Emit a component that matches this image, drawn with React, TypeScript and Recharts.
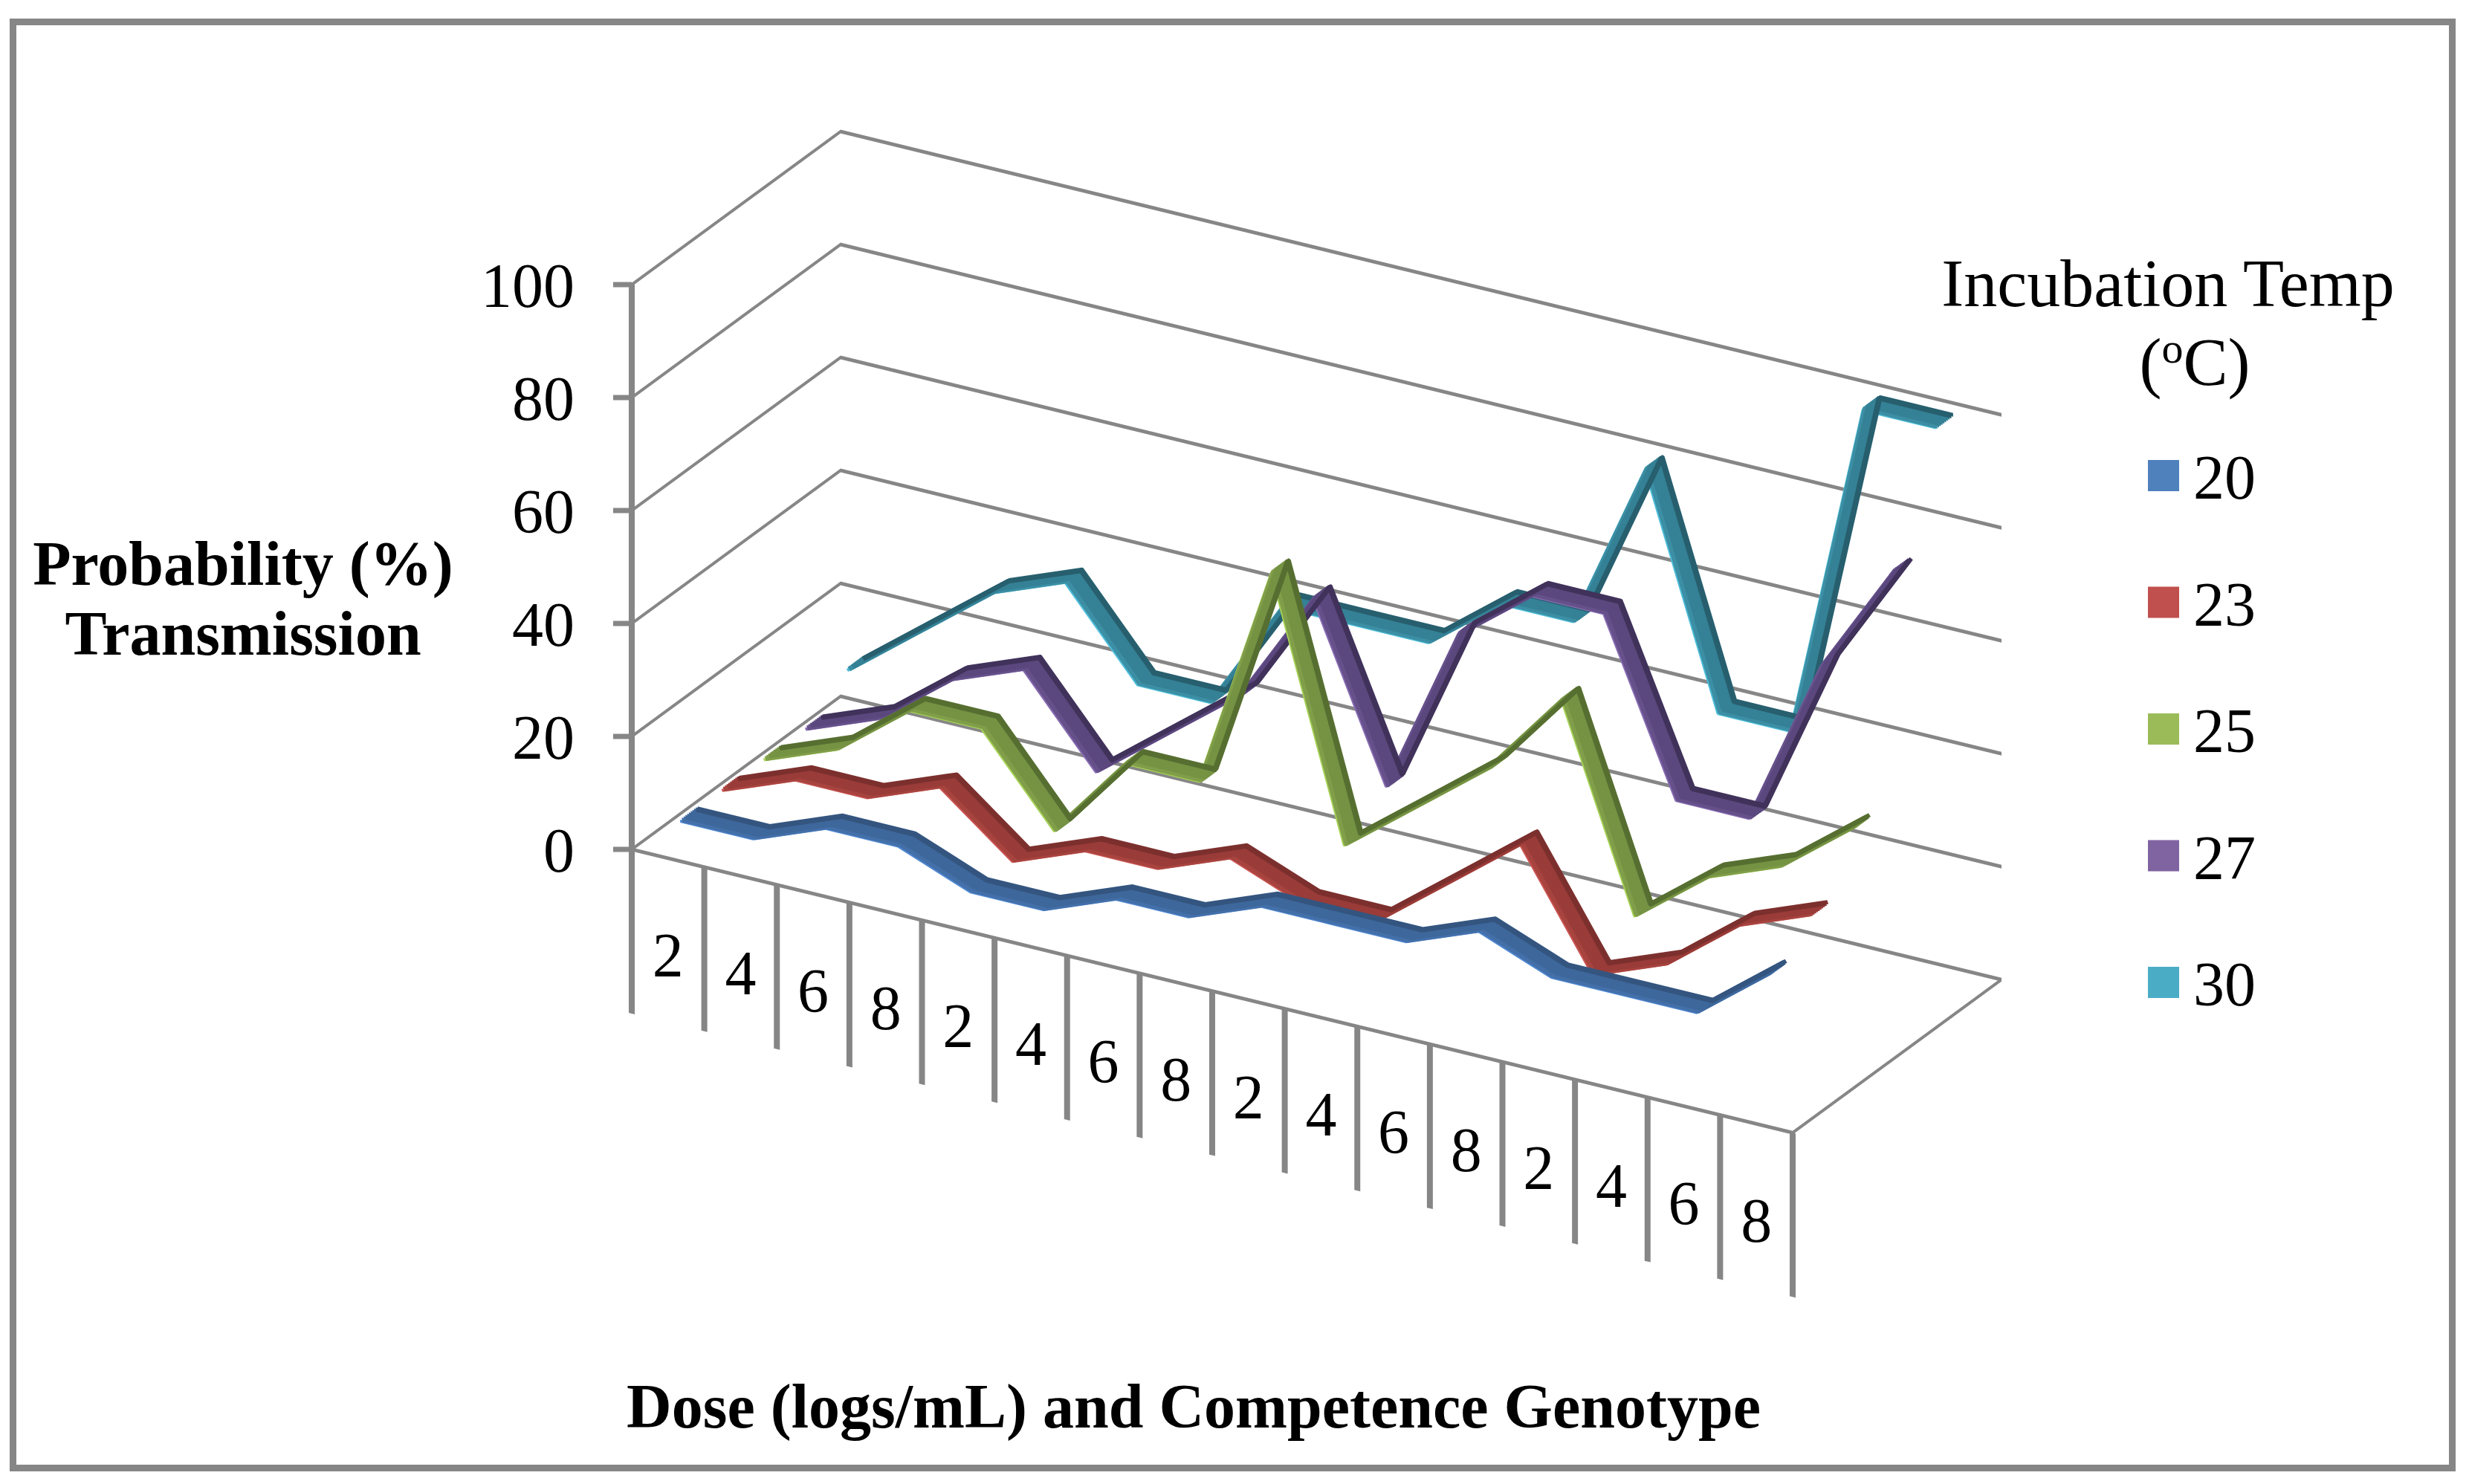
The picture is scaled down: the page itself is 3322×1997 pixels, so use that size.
import React from 'react';
import { LineChart, Line, XAxis, YAxis, ReferenceLine } from 'recharts';

// ---------- data ----------
const doseLabels = ['2', '4', '6', '8', '2', '4', '6', '8', '2', '4', '6', '8', '2', '4', '6', '8'];
const temps = ['20', '23', '25', '27', '30'];
const t20 = [5, 5, 10, 10, 5, 5, 10, 10, 15, 15, 15, 20, 15, 15, 15, 25];
const t23 = [5, 10, 10, 15, 5, 10, 10, 15, 10, 10, 20, 30, 10, 15, 25, 30];
const t25 = [5, 10, 20, 20, 5, 20, 20, 60, 15, 25, 35, 50, 15, 25, 30, 40];
const t27 = [5, 10, 20, 25, 10, 20, 30, 50, 20, 50, 60, 60, 30, 30, 60, 80];
const t30 = [10, 20, 30, 35, 20, 20, 40, 40, 40, 50, 50, 80, 40, 40, 100, 100];
const yTicks = [0, 20, 40, 60, 80, 100];

const seriesValues = [t20, t23, t25, t27, t30];

const data = doseLabels.map((dose, i) => {
  const row: any = { key: i, dose };
  temps.forEach((t, s) => {
    row['t' + t] = seriesValues[s][i];
  });
  return row;
});
const wallData = [{ depth: 0 }, { depth: 1 }];

// ---------- layout / style ----------
const PW = 3322;
const PH = 1997;
const PLOT_L = 850;
const PLOT_T = 383;
const PLOT_W = 1562;
const PLOT_H = 760;
const PLOT_R = PLOT_L + PLOT_W;
const PLOT_B = PLOT_T + PLOT_H;
const DX = 281;
const DY = -206;
const SLOPE = 0.2441;
const SIDE = DY / DX;
const BAND = PLOT_W / 16;
const GRID = '#868686';
const SERIF = "'Liberation Serif', 'Times New Roman', Times, serif";

const baseMargin = { top: PLOT_T, left: PLOT_L, right: PW - PLOT_R, bottom: PH - PLOT_B };
const xPad = { left: BAND / 2, right: BAND / 2 };

const legendColors = ['#4F81BD', '#C0504D', '#9BBB59', '#8064A2', '#4BACC6'];
// per series tones: [front edge, light body, body, dark back]
const ribbonTones = [
  ['#4f88d2', '#4470aa', '#3e689c', '#34557f'],
  ['#ca5450', '#a8443f', '#9a3c39', '#7c302e'],
  ['#a6d257', '#819e4a', '#759343', '#566f31'],
  ['#886cb2', '#66518b', '#5b487e', '#40325a'],
  ['#4ebeda', '#3c8fa4', '#358196', '#275f6e'],
];
const depthCenters = [0.1, 0.3, 0.5, 0.7, 0.9];
// drawn front -> back so that the back (dark) face covers thin rising segments
const ribbonOffsets = [-0.042, -0.0336, -0.0252, -0.0168, -0.0084, 0, 0.0084, 0.0168, 0.0252, 0.0336, 0.042];
const ribbonToneIdx = [0, 1, 1, 2, 2, 2, 2, 2, 2, 3, 3];
const ribbonWidths = [4, 6, 6, 6, 6, 6, 6, 6, 6, 6, 5];

const ribbonCss = ribbonOffsets
  .map((o, j) => `.rib-${j}{transform:translate(${(DX * o).toFixed(2)}px,${((DY - SLOPE * DX) * o).toFixed(2)}px);}`)
  .join('\n');

const skew = (s: number) => `matrix(1, ${s}, 0, 1, 0, 0)`;

function Layer3D({ transform, origin, children }: any) {
  return (
    <div
      style={{
        position: 'absolute',
        left: 0,
        top: 0,
        width: PW,
        height: PH,
        transform,
        transformOrigin: origin,
        pointerEvents: 'none',
      }}
    >
      {children}
    </div>
  );
}

function DoseTick(props: any) {
  const { x, y, index, payload } = props;
  const i = typeof index === 'number' ? index : payload?.index ?? 0;
  const counter = `matrix(1, ${-SLOPE}, 0, 1, 0, ${SLOPE * x})`;
  return (
    <g>
      <line x1={x - BAND / 2} y1={y} x2={x - BAND / 2} y2={y + 221} stroke={GRID} strokeWidth={8} />
      {i === doseLabels.length - 1 && (
        <line x1={x + BAND / 2} y1={y} x2={x + BAND / 2} y2={y + 221} stroke={GRID} strokeWidth={8} />
      )}
      <text
        x={x}
        y={y + 159}
        textAnchor="middle"
        fontFamily={SERIF}
        fontSize={84}
        fill="#000"
        transform={counter}
      >
        {doseLabels[i]}
      </text>
    </g>
  );
}

function wallLines(values: number[]) {
  return values.map((v) => (
    <ReferenceLine key={v} y={v} stroke={GRID} strokeWidth={5} ifOverflow="visible" />
  ));
}

export default function App() {
  const order = [4, 3, 2, 1, 0];
  return (
    <div style={{ position: 'absolute', left: 0, top: 0, width: PW, height: PH, background: '#fff', overflow: 'hidden' }}>
      <style>{ribbonCss}</style>
      <div
        style={{
          position: 'absolute',
          left: 13,
          top: 25,
          width: 3304 - 13,
          height: 1980 - 25,
          border: `9px solid ${GRID}`,
          boxSizing: 'border-box',
        }}
      />

      {/* left wall */}
      <Layer3D transform={skew(SIDE)} origin={`${PLOT_L}px 0px`}>
        <LineChart width={PW} height={PH} data={wallData} margin={{ ...baseMargin, right: PW - PLOT_L - DX }}>
          <XAxis type="number" dataKey="depth" domain={[0, 1]} allowDataOverflow hide />
          <YAxis hide domain={[0, 100]} allowDataOverflow ticks={yTicks} />
          {wallLines(yTicks)}
        </LineChart>
      </Layer3D>

      {/* back wall */}
      <Layer3D transform={`translate(${DX}px, ${DY}px) ${skew(SLOPE)}`} origin={`${PLOT_L}px 0px`}>
        <LineChart width={PW} height={PH} data={data} margin={baseMargin}>
          <XAxis dataKey="key" hide padding={xPad} />
          <YAxis hide domain={[0, 100]} allowDataOverflow ticks={yTicks} />
          {wallLines(yTicks)}
        </LineChart>
      </Layer3D>

      {/* floor right edge */}
      <Layer3D transform={`translate(0px, ${SLOPE * PLOT_W}px) ${skew(SIDE)}`} origin={`${PLOT_R}px 0px`}>
        <LineChart width={PW} height={PH} data={wallData} margin={{ ...baseMargin, left: PLOT_R, right: PW - PLOT_R - DX }}>
          <XAxis type="number" dataKey="depth" domain={[0, 1]} allowDataOverflow hide />
          <YAxis hide domain={[0, 100]} allowDataOverflow ticks={yTicks} />
          {wallLines([0])}
        </LineChart>
      </Layer3D>

      {/* series ribbons, back series first */}
      {order.map((s) => {
        const d = depthCenters[s];
        return (
          <Layer3D
            key={temps[s]}
            transform={`translate(${DX * d}px, ${DY * d}px) ${skew(SLOPE)}`}
            origin={`${PLOT_L}px 0px`}
          >
            <LineChart width={PW} height={PH} data={data} margin={baseMargin}>
              <XAxis dataKey="key" hide padding={xPad} />
              <YAxis hide domain={[0, 100]} ticks={yTicks} />
              {ribbonOffsets.map((o, j) => (
                <Line
                  key={j}
                  className={`rib-${j}`}
                  type="linear"
                  dataKey={'t' + temps[s]}
                  name={temps[s]}
                  stroke={ribbonTones[s][ribbonToneIdx[j]]}
                  strokeWidth={ribbonWidths[j]}
                  strokeLinejoin="round"
                  dot={false}
                  activeDot={false}
                  isAnimationActive={false}
                />
              ))}
            </LineChart>
          </Layer3D>
        );
      })}

      {/* category axis (front floor edge) */}
      <Layer3D transform={skew(SLOPE)} origin={`${PLOT_L}px 0px`}>
        <LineChart width={PW} height={PH} data={data} margin={{ ...baseMargin, bottom: baseMargin.bottom - 300 }}>
          <XAxis
            dataKey="key"
            height={300}
            interval={0}
            padding={xPad}
            axisLine={{ stroke: GRID, strokeWidth: 5 }}
            tickLine={false}
            tickSize={0}
            tickMargin={0}
            tick={(p: any) => <DoseTick {...p} />}
          />
          <YAxis hide domain={[0, 100]} allowDataOverflow ticks={yTicks} />
        </LineChart>
      </Layer3D>

      {/* value axis */}
      <Layer3D transform="none" origin="0px 0px">
        <LineChart width={PW} height={PH} data={data} margin={{ ...baseMargin, left: PLOT_L - 200 }}>
          <XAxis dataKey="key" hide padding={xPad} />
          <YAxis
            width={200}
            domain={[0, 100]}
            allowDataOverflow
            ticks={yTicks}
            interval={0}
            axisLine={{ stroke: GRID, strokeWidth: 8 }}
            tickLine={{ stroke: GRID, strokeWidth: 7 }}
            tickSize={25}
            tickMargin={52}
            tick={{ fontSize: 84, fill: '#000', fontFamily: SERIF }}
          />
        </LineChart>
      </Layer3D>

      {/* titles and legend */}
      <svg width={PW} height={PH} style={{ position: 'absolute', left: 0, top: 0 }}>
        <g fontFamily={SERIF} fill="#000">
          <text x={327} y={787} textAnchor="middle" fontWeight="bold" fontSize={84}>
            Probability (%)
          </text>
          <text x={327} y={881} textAnchor="middle" fontWeight="bold" fontSize={84}>
            Transmission
          </text>
          <text x={1606} y={1921} textAnchor="middle" fontWeight="bold" fontSize={84}>
            Dose (logs/mL) and Competence Genotype
          </text>
          <text x={2917} y={412} textAnchor="middle" fontSize={90}>
            Incubation Temp
          </text>
          <text x={2953} y={518} textAnchor="middle" fontSize={90}>
            (<tspan dy={-30} fontSize={58}>o</tspan>
            <tspan dy={30}>C)</tspan>
          </text>
          {temps.map((t, i) => {
            const cy = 640 + i * 170.5;
            return (
              <g key={t}>
                <rect x={2890} y={cy - 21} width={42} height={42} fill={legendColors[i]} />
                <text x={2951} y={cy + 31} fontSize={84}>
                  {t}
                </text>
              </g>
            );
          })}
        </g>
      </svg>
    </div>
  );
}
